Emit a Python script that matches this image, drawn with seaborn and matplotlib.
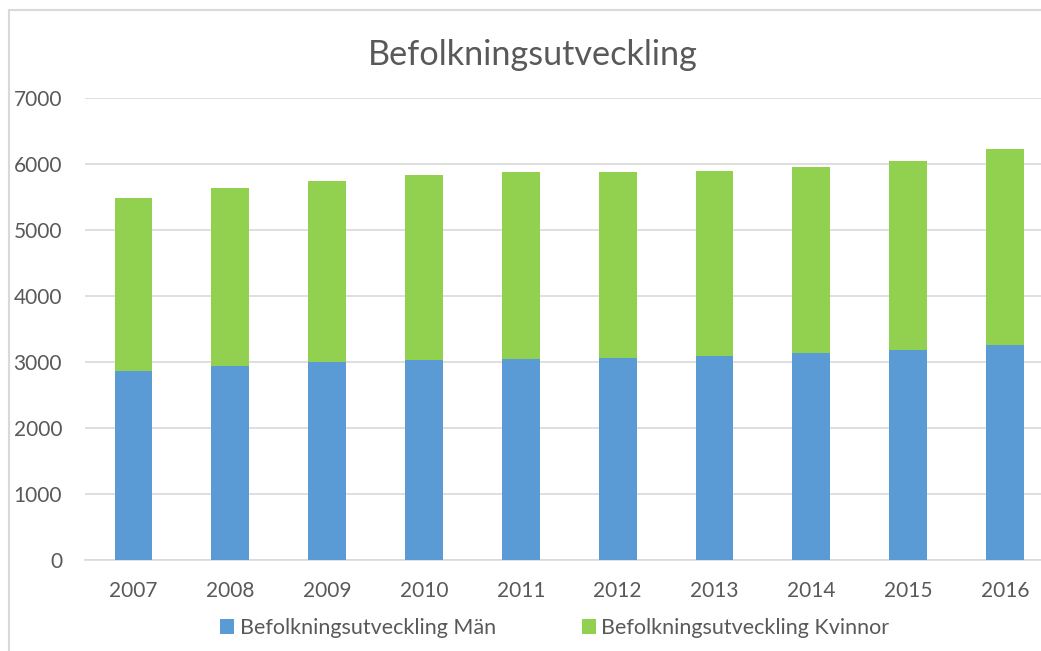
import matplotlib
matplotlib.use("Agg")
import matplotlib.pyplot as plt
import seaborn as sns
import pandas as pd
from matplotlib.patches import Patch
from matplotlib.lines import Line2D

years = ["2007", "2008", "2009", "2010", "2011", "2012", "2013", "2014", "2015", "2016"]
man = [2860, 2940, 2996, 3031, 3052, 3061, 3091, 3137, 3182, 3258]
kvinnor = [2627, 2693, 2749, 2809, 2829, 2824, 2810, 2824, 2870, 2971]
yticks = [0, 1000, 2000, 3000, 4000, 5000, 6000, 7000]

title = "Befolkningsutveckling"
label_man = "Befolkningsutveckling Män"
label_kv = "Befolkningsutveckling Kvinnor"

blue = "#5B9BD5"
green = "#92D050"
txt = "#595959"
grid = "#D9D9D9"

sns.set_theme(style="white")
plt.rcParams["font.family"] = ["Lato", "DejaVu Sans"]

df = pd.DataFrame({"year": years, "man": man, "kv": kvinnor})
df["total"] = df["man"] + df["kv"]

W, H = 1041, 651
fig = plt.figure(figsize=(W / 100, H / 100), dpi=100)
ax = fig.add_axes([85 / W, 91 / H, (1053.5 - 85) / W, 462 / H])

sns.barplot(data=df, x="year", y="total", color=green, width=0.39, ax=ax,
            saturation=1, edgecolor="none", zorder=2)
sns.barplot(data=df, x="year", y="man", color=blue, width=0.39, ax=ax,
            saturation=1, edgecolor="none", zorder=3)

ax.set_ylim(0, 7000)
ax.set_xlim(-0.5, len(years) - 0.5)
ax.set_yticks(yticks)
ax.set_yticklabels([str(v) for v in yticks])
ax.yaxis.grid(True, color=grid, linewidth=1.2, zorder=0)
ax.set_axisbelow(True)
for s in ["top", "right", "left"]:
    ax.spines[s].set_visible(False)
ax.spines["bottom"].set_color(grid)
ax.spines["bottom"].set_linewidth(1.2)
ax.tick_params(axis="both", length=0, colors=txt, labelsize=15)
ax.tick_params(axis="y", pad=16.5)
ax.tick_params(axis="x", pad=15)
ax.set_xlabel("")
ax.set_ylabel("")

fig.text(533 / W, 1 - 55 / H, title, ha="center", va="center", fontsize=24.7, color=txt)

handles = [Patch(facecolor=blue, edgecolor="none", label=label_man),
           Patch(facecolor=green, edgecolor="none", label=label_kv)]
fig.legend(handles=handles, loc="center", bbox_to_anchor=(555 / W, 1 - 628 / H),
           ncol=2, frameon=False, fontsize=15.5, labelcolor=txt,
           handlelength=0.65, handleheight=0.65, handletextpad=0.25, columnspacing=4.0)

# chart border
fig.add_artist(Line2D([9 / W, 9 / W], [0, 1 - 10 / H], transform=fig.transFigure, color=grid, linewidth=1.5))
fig.add_artist(Line2D([9 / W, 1], [1 - 10 / H, 1 - 10 / H], transform=fig.transFigure, color=grid, linewidth=1.5))

fig.savefig("out.png", dpi=100, facecolor="white")
